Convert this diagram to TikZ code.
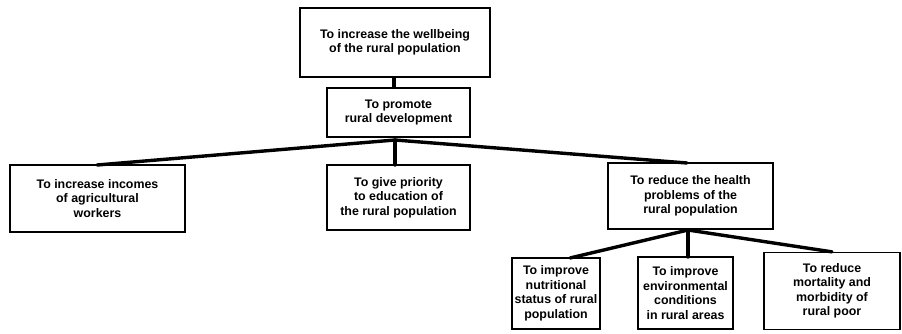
\documentclass[tikz,border=0pt]{standalone}
\usepackage{fontspec}
\setmainfont{Liberation Sans}
\begin{document}
\begin{tikzpicture}[x=1pt,y=-1pt,
  box/.style={draw=black,line width=1.3pt,fill=white,align=center,inner sep=1pt,
    font=\fontsize{12.4}{14.5}\selectfont\bfseries},
  link/.style={line width=3.4pt,line cap=round}]
\useasboundingbox (0,0) rectangle (902,333);
\node[box,minimum width=190pt,minimum height=69pt] (top) at (395,42.5) {To increase the wellbeing\\of the rural population};
\node[box,minimum width=143pt,minimum height=49pt] (dev) at (398.5,112.5) {To promote\\rural development};
\node[box,minimum width=175pt,minimum height=67pt] (inc) at (97.5,198.5) {To increase incomes\\of agricultural\\workers};
\node[box,minimum width=143pt,minimum height=65pt] (edu) at (398.5,197.5) {To give priority\\to education of\\the rural population};
\node[box,minimum width=165pt,minimum height=66pt] (hea) at (690.5,196) {To reduce the health\\problems of the\\rural population};
\node[box,minimum width=88pt,minimum height=71pt] (nut) at (556,293.5) {To improve\\nutritional\\status of rural\\population};
\node[box,minimum width=95pt,minimum height=72pt] (env) at (685.5,293) {To improve\\environmental\\conditions\\in rural areas};
\node[box,minimum width=136pt,minimum height=77pt] (mor) at (832,291) {To reduce\\mortality and\\morbidity of\\rural poor};
\coordinate (j1) at (395,140);
\coordinate (j2) at (688,230);
\coordinate (incT) at (97,165);
\coordinate (eduT) at (395,165);
\coordinate (heaT) at (687,163);
\coordinate (nutT) at (570,258);
\coordinate (envT) at (688,257);
\draw[link] (top.south -| 394,0) -- (dev.north -| 394,0);
\draw[link] (j1) -- (incT);
\draw[link] (j1) -- (eduT);
\draw[link] (j1) -- (heaT);
\draw[link] (j2) -- (nutT);
\draw[link] (j2) -- (envT);
\draw[link] (j2) -- (mor.north);
\end{tikzpicture}
\end{document}
